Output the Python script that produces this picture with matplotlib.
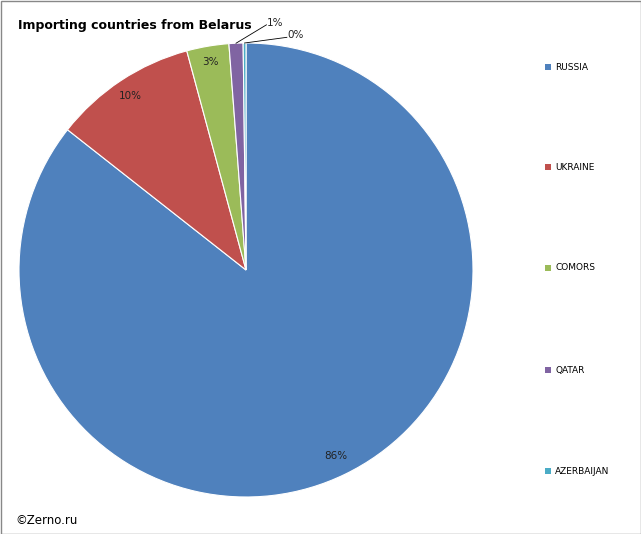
import numpy as np
import matplotlib
matplotlib.use("Agg")
import matplotlib.pyplot as plt
from matplotlib.patches import Rectangle

countries = ["RUSSIA", "UKRAINE", "COMORS", "QATAR", "AZERBAIJAN"]
shares = [85.6, 10.2, 3.0, 1.0, 0.2]
colors = ["#4F81BD", "#C0504D", "#9BBB59", "#8064A2", "#4BACC6"]

W, H = 641, 534
fig = plt.figure(figsize=(W / 100, H / 100), dpi=100)
fig.patch.set_facecolor("white")
fig.add_artist(Rectangle((0.5 / W, 0.5 / H), 1 - 1 / W, 1 - 1 / H, transform=fig.transFigure,
                         fill=False, edgecolor="#888888", linewidth=1))

cx, cy, r = 246, 270, 227
ax = fig.add_axes([(cx - r) / W, (H - cy - r) / H, 2 * r / W, 2 * r / H])
wedges, _ = ax.pie(shares, colors=colors, startangle=90, counterclock=False,
                   wedgeprops=dict(edgecolor="white", linewidth=0.8))
ax.set_xlim(-1, 1)
ax.set_ylim(-1, 1)
ax.set_aspect("equal")
ax.axis("off")

# percentage labels
label_r = [0.91, 0.92, 0.93, None, None]
for w, s, lr in zip(wedges, shares, label_r):
    th = np.deg2rad((w.theta1 + w.theta2) / 2)
    txt = f"{round(s):.0f}%"
    if lr is not None:
        ax.text(lr * np.cos(th), lr * np.sin(th), txt, ha="center", va="center",
                fontsize=7.5, color="#222222")
# outside labels with leaders
outside = [(3, (0.13, 1.09), "1%"), (4, (0.22, 1.035), "0%")]
for i, (tx, ty), txt in outside:
    w = wedges[i]
    th = np.deg2rad((w.theta1 + w.theta2) / 2)
    px, py = np.cos(th), np.sin(th)
    ax.plot([px, tx - 0.04], [py, ty - 0.01], color="black", linewidth=0.6, clip_on=False)
    ax.text(tx, ty, txt, ha="center", va="center", fontsize=7.5, color="#222222", clip_on=False)

fig.text(18 / W, 1 - 25 / H, "Importing countries from Belarus", fontsize=9,
         fontweight="bold", ha="left", va="center")
fig.text(15 / W, 1 - 520 / H, "©Zerno.ru", fontsize=8.5, ha="left", va="center")

legend_y = [67, 167, 268, 370, 471]
for name, col, y in zip(countries, colors, legend_y):
    fig.add_artist(Rectangle((545 / W, 1 - (y + 3) / H), 6 / W, 6 / H,
                             transform=fig.transFigure, facecolor=col, edgecolor="none"))
    fig.text(555 / W, 1 - y / H, name, fontsize=6.5, ha="left", va="center")

fig.savefig("out.png", dpi=100)
